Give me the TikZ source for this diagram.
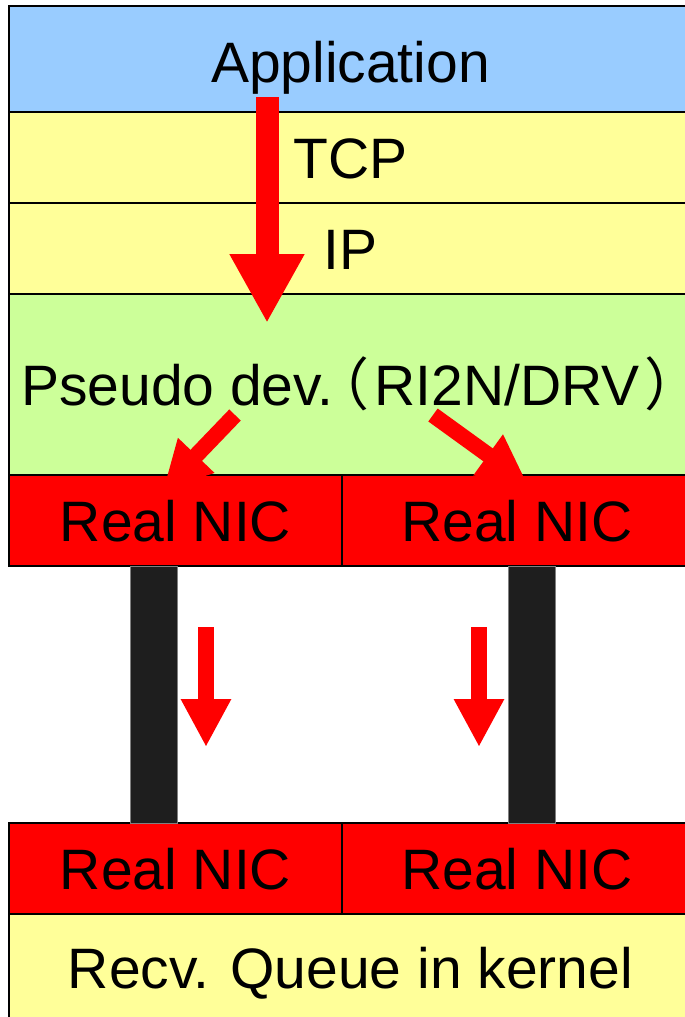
\documentclass[tikz,border=0pt]{standalone}
\usepackage{fontspec}
\setmainfont{Liberation Sans}
\newfontfamily\cjk[RawFeature=+halt]{Noto Sans CJK JP}
\usetikzlibrary{positioning,arrows.meta}

\definecolor{appblue}{HTML}{99CCFF}
\definecolor{stackyellow}{HTML}{FFFF99}
\definecolor{drvgreen}{HTML}{CCFF99}
\definecolor{nicred}{HTML}{FF0000}
\definecolor{cablegray}{HTML}{1E1E1E}

\tikzset{
  layer/.style={draw, line width=2pt, minimum width=683pt, inner sep=0pt, outer sep=0pt,
    text height=41pt, text depth=0pt, font=\fontsize{57}{60}\selectfont},
  nic/.style={layer, fill=nicred, minimum height=91pt},
  cable/.style={fill=cablegray, draw=gray, line width=0.8pt},
  bigflow/.style={draw=red, line width=23pt, -{Triangle[length=69pt,width=70pt]}},
  flow/.style={draw=red, line width=16pt, -{Triangle[length=48pt,width=47pt]}}
}

\begin{document}
\begin{tikzpicture}[x=1pt,y=-1pt]
  \clip (0,0) rectangle (685,1017);
  \fill[white] (0,0) rectangle (685,1017);

  % protocol stack
  \node[layer, fill=appblue, minimum height=106pt] (app) at (350.5,59) {};
  \node at ([yshift=-3pt]app.center) [layer, draw=none, minimum height=0pt] {Application};
  \node[layer, fill=stackyellow, minimum height=91pt, below=0pt of app] (tcp) {TCP};
  \node[layer, fill=stackyellow, minimum height=91pt, below=0pt of tcp] (ip) {IP};
  \node[layer, fill=drvgreen, minimum height=181pt, below=0pt of ip] (pdev) {};
  \node at ([xshift=-1pt]pdev.center) [layer, draw=none, minimum height=0pt]
    {Pseudo dev.\kern7pt{\cjk （}\kern5pt RI2N/DRV\kern5pt{\cjk ）}\kern5pt};

  % sending side NICs
  \node[nic, minimum width=333pt, below right=0pt of pdev.south west] (snd1) {Real NIC};
  \node[nic, minimum width=350pt, right=0pt of snd1] (snd2) {Real NIC};

  % receiving side
  \node[nic, minimum width=333pt, below=257pt of snd1] (rcv1) {Real NIC};
  \node[nic, minimum width=350pt, right=0pt of rcv1] (rcv2) {Real NIC};
  \node[layer, fill=stackyellow, minimum height=108pt, below right=0pt of rcv1.south west] (queue)
    {Recv. Queue in kernel};

  % cables
  \draw[cable] ([xshift=-45.5pt]snd1.south) rectangle ([xshift=1.5pt]rcv1.north);
  \draw[cable] ([xshift=-9pt]snd2.south) rectangle ([xshift=38pt]rcv2.north);

  % data flow
  \coordinate (a0) at (267,97);
  \coordinate (a1) at (267,323);
  \coordinate (l0) at (235,415);
  \coordinate (l1) at (163,490);
  \coordinate (r0) at (433,415);
  \coordinate (r1) at (527,483);
  \coordinate (w0) at (206,627);
  \coordinate (w1) at (206,747);
  \coordinate (e0) at (479,627);
  \coordinate (e1) at (479,747);
  \draw[bigflow] (a0) -- (a1);
  \draw[flow] (l0) -- (l1);
  \draw[flow] (r0) -- (r1);
  \draw[flow] (w0) -- (w1);
  \draw[flow] (e0) -- (e1);
\end{tikzpicture}
\end{document}
